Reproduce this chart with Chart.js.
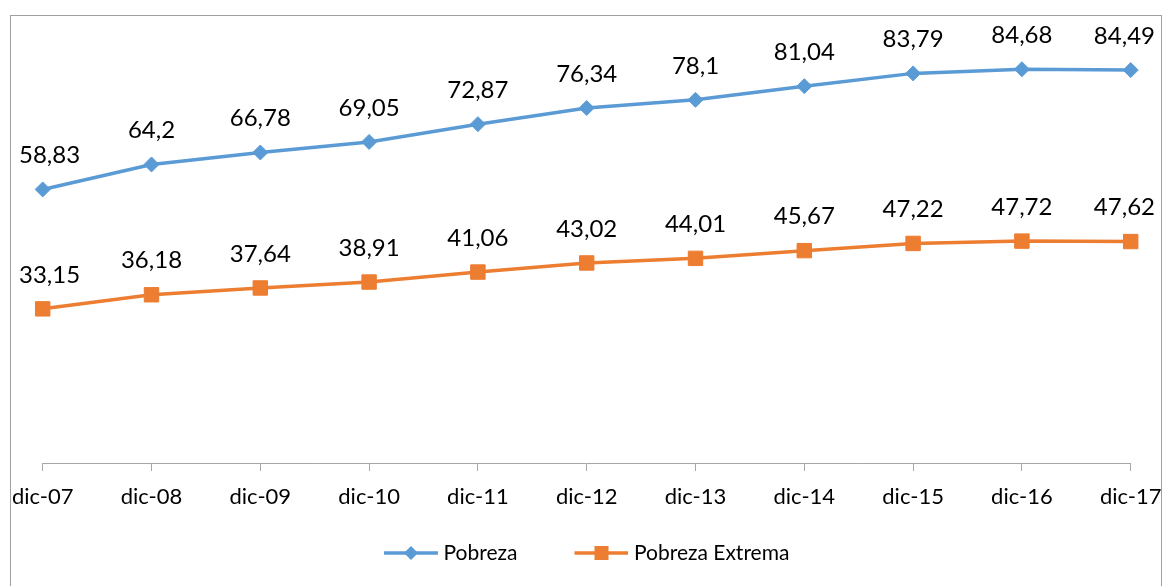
<!DOCTYPE html>
<html>
<head>
<meta charset="utf-8">
<script src="https://cdn.jsdelivr.net/npm/chart.js@4.4.1/dist/chart.umd.min.js"></script>
<style>
  html, body { margin: 0; padding: 0; background: #fff; overflow: hidden; }
  #wrap { position: absolute; left: 0; top: 0; width: 1165px; height: 586px; }
  #frame { position: absolute; left: 10px; top: 15px; width: 1152px; height: 700px; border: 1px solid #a0a0a0; box-sizing: border-box; }
</style>
</head>
<body>
<div id="frame"></div>
<div id="wrap"><canvas id="c"></canvas></div>
<script>
const categories = ["dic-07","dic-08","dic-09","dic-10","dic-11","dic-12","dic-13","dic-14","dic-15","dic-16","dic-17"];
const pobreza = [58.83, 64.2, 66.78, 69.05, 72.87, 76.34, 78.1, 81.04, 83.79, 84.68, 84.49];
const pobrezaExtrema = [33.15, 36.18, 37.64, 38.91, 41.06, 43.02, 44.01, 45.67, 47.22, 47.72, 47.62];
const seriesNames = ["Pobreza", "Pobreza Extrema"];
const yMin = 0, yMax = 90;

const BLUE = '#5B9BD5', ORANGE = '#ED7D31';
const FONT = 'Lato';
const LEGEND_PAD = 57;
const LEGEND_FONT = 21;

function legendImg(color, shape) {
  const c = document.createElement('canvas');
  c.width = 59; c.height = 20;
  const g = c.getContext('2d');
  g.strokeStyle = color; g.lineWidth = 3.5;
  g.beginPath(); g.moveTo(5, 10); g.lineTo(59, 10); g.stroke();
  g.fillStyle = color;
  const cx = 5 + 27;
  g.beginPath();
  if (shape === 'diamond') {
    g.moveTo(cx, 3); g.lineTo(cx + 7, 10); g.lineTo(cx, 17); g.lineTo(cx - 7, 10); g.closePath();
  } else {
    g.rect(cx - 7, 3, 14, 14);
  }
  g.fill();
  return c;
}
const legendImages = [legendImg(BLUE, 'diamond'), legendImg(ORANGE, 'square')];

const legendPlacement = {
  id: 'legendPlacement',
  afterInit(chart) {
    const lg = chart.legend;
    if (!lg) return;
    const orig = lg.fit;
    lg.fit = function () { orig.call(this); this.height = 73; };
  },
  afterLayout(chart) {
    const lg = chart.legend;
    if (!lg) return;
    lg.top = 553 - LEGEND_PAD - LEGEND_FONT / 2;
    lg.bottom = chart.height;
    lg.height = lg.bottom - lg.top;
  }
};

const dataLabels = {
  id: 'dataLabels',
  afterDatasetsDraw(chart) {
    const ctx = chart.ctx;
    ctx.save();
    ctx.font = '24px ' + FONT;
    ctx.fillStyle = '#000';
    ctx.textAlign = 'center';
    ctx.textBaseline = 'middle';
    chart.data.datasets.forEach((ds, di) => {
      const meta = chart.getDatasetMeta(di);
      meta.data.forEach((pt, i) => {
        const txt = String(ds.data[i]).replace('.', ',');
        const w = ctx.measureText(txt).width;
        let x = pt.x;
        x = Math.max(x, 19 + w / 2);
        x = Math.min(x, 1155 - w / 2);
        ctx.fillText(txt, x, pt.y - 34);
      });
    });
    ctx.restore();
  }
};

new Chart(document.getElementById('c'), {
  type: 'line',
  data: {
    labels: categories,
    datasets: [
      { label: seriesNames[0], data: pobreza, borderColor: BLUE, backgroundColor: BLUE,
        borderWidth: 3.5, pointStyle: 'rectRot', pointRadius: 7.5, pointHoverRadius: 7.5,
        pointBackgroundColor: BLUE, pointBorderColor: BLUE, pointBorderWidth: 1, tension: 0, fill: false },
      { label: seriesNames[1], data: pobrezaExtrema, borderColor: ORANGE, backgroundColor: ORANGE,
        borderWidth: 3.5, pointStyle: 'rect', pointRadius: 10.2, pointHoverRadius: 10.2,
        pointBackgroundColor: ORANGE, pointBorderColor: ORANGE, pointBorderWidth: 1, tension: 0, fill: false }
    ]
  },
  options: {
    responsive: true,
    maintainAspectRatio: false,
    animation: false,
    layout: { padding: { top: 44.5, left: 42.7, right: 34.3, bottom: 0 } },
    scales: {
      x: {
        type: 'category',
        offset: false,
        grid: { display: true, drawOnChartArea: false, drawTicks: true, tickLength: 8, color: '#a6a6a6', lineWidth: 1 },
        border: { display: true, color: '#a6a6a6', width: 1 },
        ticks: { font: { family: FONT, size: 22, lineHeight: 2.4 }, color: '#000', padding: 0, maxRotation: 0, autoSkip: false },
        afterFit(scale) { scale.height = 50; }
      },
      y: {
        display: false,
        min: yMin,
        max: yMax
      }
    },
    plugins: {
      legend: {
        display: true,
        position: 'bottom',
        labels: {
          usePointStyle: true,
          pointStyleWidth: 49,
          padding: LEGEND_PAD,
          color: '#000',
          font: { family: FONT, size: LEGEND_FONT },
          generateLabels(chart) {
            const items = Chart.defaults.plugins.legend.labels.generateLabels(chart);
            items.forEach((it, i) => { it.pointStyle = legendImages[i]; });
            return items;
          }
        }
      },
      tooltip: { enabled: false }
    }
  },
  plugins: [legendPlacement, dataLabels]
});
</script>
</body>
</html>
